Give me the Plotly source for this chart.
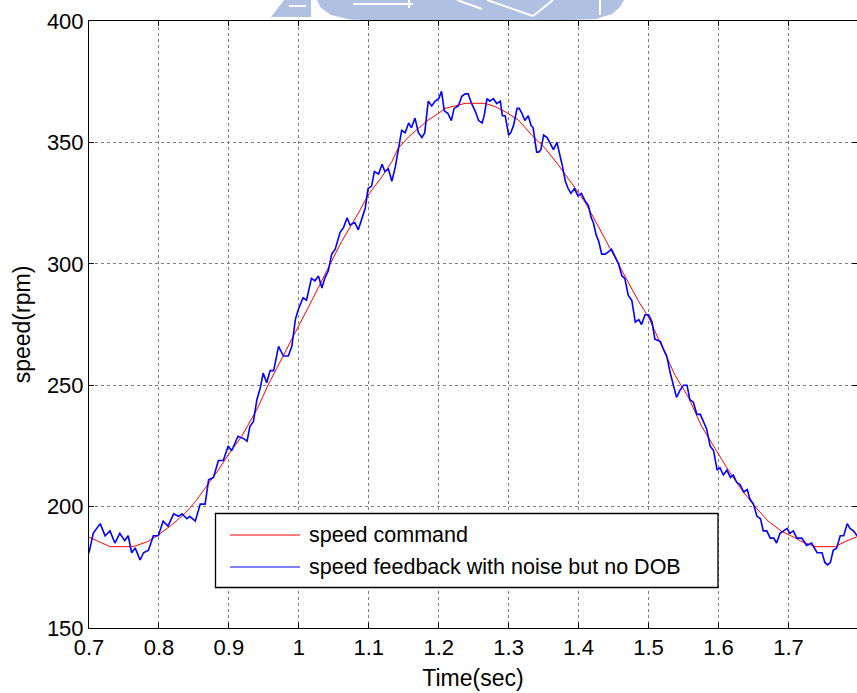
import plotly.graph_objects as go

# Speed command (rpm) vs time (s)
time_cmd = [0.700, 0.723, 0.730, 0.761, 0.766, 0.784, 0.799, 0.818, 0.837, 0.852,
            0.866, 0.885, 0.899, 0.918, 0.942, 0.956, 0.966, 0.990, 0.999, 1.014,
            1.037, 1.047, 1.061, 1.085, 1.099, 1.119, 1.133, 1.142, 1.157, 1.171,
            1.185, 1.200, 1.209, 1.223, 1.238, 1.252, 1.266, 1.281, 1.295, 1.314,
            1.333, 1.352, 1.371, 1.390, 1.409, 1.428, 1.447, 1.466, 1.486, 1.500,
            1.519, 1.538, 1.557, 1.576, 1.595, 1.614, 1.633, 1.652, 1.671, 1.691,
            1.709, 1.719, 1.738, 1.767, 1.781, 1.798]
speed_cmd = [187.4, 184.6, 183.5, 183.5, 183.8, 185.6, 188.3, 192.4, 197.2, 202.0,
             207.5, 215.1, 221.3, 228.8, 241.1, 250.1, 255.6, 268.6, 274.0, 282.3,
             295.4, 301.6, 309.1, 320.8, 328.3, 335.9, 342.1, 347.6, 352.3, 355.8,
             359.2, 362.0, 364.0, 365.0, 366.1, 366.1, 366.1, 364.7, 362.6, 359.2,
             353.0, 347.6, 340.7, 333.2, 325.5, 315.5, 305.0, 295.0, 284.4, 278.0,
             266.0, 254.0, 245.0, 233.0, 224.0, 215.0, 207.0, 200.0, 194.0, 189.7,
             187.2, 185.6, 183.5, 183.5, 185.6, 187.6]

# Measured speed feedback (rpm) vs time (s)
time_fb = [0.700, 0.706, 0.716, 0.723, 0.730, 0.737, 0.744, 0.751, 0.756, 0.761,
           0.766, 0.773, 0.778, 0.785, 0.792, 0.799, 0.806, 0.813, 0.821, 0.828,
           0.833, 0.840, 0.844, 0.852, 0.859, 0.866, 0.871, 0.878, 0.885, 0.892,
           0.899, 0.904, 0.913, 0.921, 0.926, 0.930, 0.935, 0.940, 0.945, 0.949,
           0.954, 0.959, 0.964, 0.971, 0.978, 0.985, 0.990, 0.995, 0.999, 1.006,
           1.011, 1.018, 1.023, 1.028, 1.033, 1.037, 1.042, 1.047, 1.052, 1.059,
           1.064, 1.069, 1.073, 1.080, 1.085, 1.090, 1.095, 1.099, 1.104, 1.108,
           1.114, 1.119, 1.123, 1.128, 1.133, 1.138, 1.142, 1.147, 1.152, 1.157,
           1.161, 1.166, 1.171, 1.176, 1.180, 1.185, 1.190, 1.195, 1.200, 1.204,
           1.208, 1.213, 1.218, 1.222, 1.228, 1.233, 1.238, 1.242, 1.247, 1.252,
           1.257, 1.262, 1.265, 1.269, 1.273, 1.278, 1.283, 1.288, 1.291, 1.295,
           1.300, 1.303, 1.307, 1.312, 1.315, 1.319, 1.323, 1.328, 1.332, 1.335,
           1.340, 1.343, 1.346, 1.350, 1.355, 1.359, 1.364, 1.369, 1.374, 1.377,
           1.381, 1.385, 1.389, 1.394, 1.399, 1.404, 1.409, 1.414, 1.418, 1.421,
           1.425, 1.429, 1.433, 1.438, 1.443, 1.447, 1.452, 1.457, 1.462, 1.466,
           1.471, 1.476, 1.481, 1.486, 1.490, 1.495, 1.500, 1.505, 1.509, 1.517,
           1.521, 1.526, 1.531, 1.536, 1.540, 1.545, 1.550, 1.555, 1.559, 1.564,
           1.569, 1.574, 1.578, 1.583, 1.588, 1.593, 1.598, 1.602, 1.607, 1.612,
           1.617, 1.621, 1.626, 1.631, 1.636, 1.641, 1.645, 1.650, 1.655, 1.660,
           1.664, 1.669, 1.674, 1.679, 1.683, 1.688, 1.693, 1.698, 1.702, 1.707,
           1.712, 1.719, 1.726, 1.733, 1.741, 1.748, 1.752, 1.756, 1.760, 1.764,
           1.769, 1.774, 1.779, 1.784, 1.788, 1.793, 1.798]
speed_fb = [181, 189, 193, 188, 190, 185, 189, 186, 188, 181,
            183, 178, 181, 182, 188, 188, 194, 192, 197, 196,
            197, 195, 196, 194, 201, 201, 211, 212, 219, 219,
            225, 223, 229, 228, 227, 233, 235, 244, 249, 255,
            251, 256, 256, 266, 262, 262, 266, 277, 281, 286,
            285, 294, 293, 295, 290, 294, 297, 304, 306, 313,
            315, 319, 316, 317, 314, 319, 323, 331, 332, 338,
            337, 341, 338, 339, 334, 340, 346, 355, 354, 358,
            356, 360, 354, 352, 354, 367, 365, 367, 368, 371,
            363, 362, 359, 364, 365, 369, 370, 370, 366, 363,
            359, 358, 361, 368, 367, 368, 366, 367, 361, 361,
            353, 354, 357, 364, 364, 362, 359, 361, 357, 356,
            346, 346, 347, 353, 352, 350, 347, 350, 344, 340,
            334, 331, 329, 331, 328, 329, 326, 324, 319, 317,
            312, 309, 304, 304, 305, 306, 303, 300, 295, 294,
            287, 285, 276, 277, 275, 279, 279, 276, 269, 268,
            265, 262, 255, 250, 245, 248, 250, 250, 244, 243,
            238, 238, 235, 232, 225, 223, 215, 216, 213, 215,
            212, 213, 210, 209, 206, 207, 203, 201, 196, 195,
            190, 190, 187, 187, 185, 189, 190, 191, 189, 190,
            187, 187, 184, 185, 181, 181, 177, 176, 177, 182,
            183, 188, 188, 193, 191, 190, 188]

x_ticks = [0.7, 0.8, 0.9, 1.0, 1.1, 1.2, 1.3, 1.4, 1.5, 1.6, 1.7]
x_tick_labels = ["0.7", "0.8", "0.9", "1", "1.1", "1.2", "1.3", "1.4", "1.5", "1.6", "1.7"]
y_ticks = [150, 200, 250, 300, 350, 400]
y_tick_labels = ["150", "200", "250", "300", "350", "400"]

legend_labels = ["speed command", "speed feedback with noise but no DOB"]
line_colors = ["#ff0000", "#0000ff"]

W, H = 857, 693
ML, MR, MT, MB = 89, 0, 21, 65
PW, PH = W - ML - MR, H - MT - MB
FONT = "Arial, 'Liberation Sans', sans-serif"


def px(x, y):
    """Pixel position on the page -> paper coordinates."""
    return (x - ML) / PW, (H - MB - y) / PH


def poly_path(points):
    pts = [px(x, y) for x, y in points]
    return "M" + "L".join(f"{a:.5f},{b:.5f}" for a, b in pts) + "Z"


fig = go.Figure()
fig.add_trace(go.Scatter(x=time_cmd, y=speed_cmd, mode="lines", name=legend_labels[0],
                         line=dict(color=line_colors[0], width=1), showlegend=False))
fig.add_trace(go.Scatter(x=time_fb, y=speed_fb, mode="lines", name=legend_labels[1],
                         line=dict(color=line_colors[1], width=1.6), showlegend=False))

axis_common = dict(
    ticks="inside", ticklen=5, tickwidth=1, tickcolor="black",
    showline=True, linecolor="black", linewidth=1, mirror="ticks",
    showgrid=True, gridcolor="#808080", gridwidth=1, griddash="dot",
    zeroline=False, tickfont=dict(family=FONT, size=22, color="black"),
)

fig.update_xaxes(range=[0.7, 1.798], tickmode="array", tickvals=x_ticks, ticktext=x_tick_labels,
                 title=dict(text="Time(sec)", font=dict(family=FONT, size=23, color="black"), standoff=10),
                 **axis_common)
fig.update_yaxes(range=[150, 400], tickmode="array", tickvals=y_ticks, ticktext=y_tick_labels,
                 title=dict(text="speed(rpm)", font=dict(family=FONT, size=23, color="black"), standoff=9),
                 **axis_common)

shapes = []

# faint emblem peeking above the axes
wm = "rgb(176,192,226)"
shapes.append(dict(type="path", xref="paper", yref="paper", layer="below", line=dict(width=0),
                   fillcolor=wm,
                   path=poly_path([(317, 0), (321, 8), (331, 15), (350, 19.5), (380, 20.5),
                                   (560, 20.5), (596, 19), (612, 14), (620, 7), (624, 0)])))
shapes.append(dict(type="path", xref="paper", yref="paper", layer="below", line=dict(width=0),
                   fillcolor=wm,
                   path=poly_path([(284, 0), (311, 0), (311, 17), (271, 17), (278, 8)])))
for (x0, y0, x1, y1) in [(353, 4, 413, 4), (409, 0, 409, 8), (457, 0, 482, 9),
                         (487, 0, 533, 16), (533, 16, 553, 0), (600, 0, 600, 15),
                         (289, 6, 306, 6)]:
    a0, b0 = px(x0, y0)
    a1, b1 = px(x1, y1)
    shapes.append(dict(type="line", xref="paper", yref="paper", layer="below",
                       x0=a0, y0=b0, x1=a1, y1=b1, line=dict(color="white", width=2)))

# legend box
bx0, by0 = px(215.5, 513.5)
bx1, by1 = px(718, 587.5)
shapes.append(dict(type="rect", xref="paper", yref="paper", layer="above",
                   x0=bx0, y0=by1, x1=bx1, y1=by0,
                   fillcolor="white", line=dict(color="black", width=1.3)))

annotations = []
row_y = [535, 567]
for label, color, ry in zip(legend_labels, line_colors, row_y):
    a0, b = px(230, ry)
    a1, _ = px(300, ry)
    shapes.append(dict(type="line", xref="paper", yref="paper", layer="above",
                       x0=a0, y0=b, x1=a1, y1=b, line=dict(color=color, width=1)))
    ta, _ = px(307, ry)
    annotations.append(dict(text=label, xref="paper", yref="paper", x=ta, y=b,
                            xanchor="left", yanchor="middle", showarrow=False,
                            font=dict(family=FONT, size=21.5, color="black")))

fig.update_layout(
    width=W, height=H,
    margin=dict(l=ML, r=MR, t=MT, b=MB, pad=0),
    paper_bgcolor="white", plot_bgcolor="white",
    shapes=shapes, annotations=annotations,
    showlegend=False,
)

fig.write_html("out.html")
